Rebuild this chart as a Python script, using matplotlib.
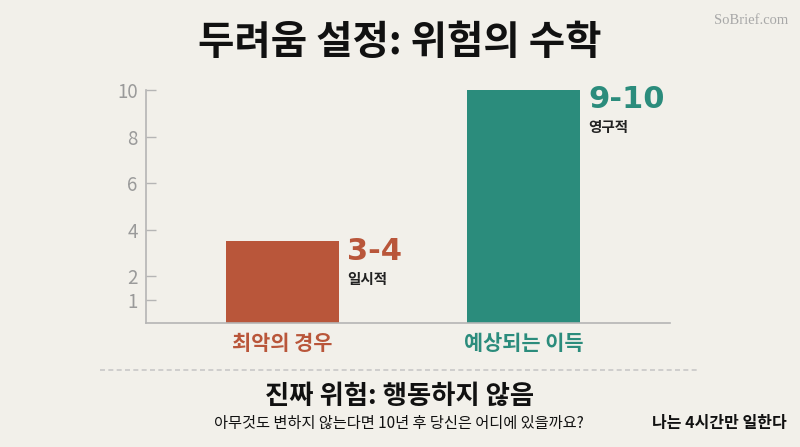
from matplotlib import pyplot as plt
import numpy as np

plt.rcParams['font.family'] = ['Noto Sans CJK KR', 'DejaVu Sans']

# 데이터
categories = ['최악의 경우', '예상되는 이득']
values = [3.5, 10]
range_labels = ['3-4', '9-10']
descriptions = ['일시적', '영구적']
bar_colors = ['#B9563A', '#2B8C7C']
yticks = [1, 2, 4, 6, 8, 10]

bg = '#F2F0EA'

fig = plt.figure(figsize=(8, 4.47), dpi=100, facecolor=bg)
ax = fig.add_axes([0.1825, 0.2774, 0.655, 0.5213])
ax.set_facecolor(bg)

x = np.arange(len(categories))
w = 0.469
ax.bar(x, values, width=w, color=bar_colors, zorder=2)

ax.set_xlim(-0.566, 1.608)
ax.set_ylim(0, 10)
ax.set_yticks(yticks)
ax.set_yticklabels([str(t) for t in yticks])
ax.tick_params(axis='y', direction='in', length=7, width=1, color='#b5b5b5',
               labelcolor='#9a9a9a', labelsize=13.5, pad=6)
ax.set_xticks([])
for s in ['top', 'right']:
    ax.spines[s].set_visible(False)
for s in ['left', 'bottom']:
    ax.spines[s].set_color('#b5b5b5')
    ax.spines[s].set_linewidth(1.2)

# 막대 옆 라벨
for i in range(len(values)):
    ax.annotate(range_labels[i], xy=(x[i] + w / 2, values[i]),
                xytext=(6, -7), textcoords='offset points',
                ha='left', va='center', fontsize=22, fontweight='bold',
                color=bar_colors[i], family=['DejaVu Sans'])
    ax.annotate(descriptions[i], xy=(x[i] + w / 2, values[i]),
                xytext=(6, -27), textcoords='offset points',
                ha='left', va='center', fontsize=10.5, fontweight='bold',
                color='#222222')
    ax.annotate(categories[i], xy=(x[i], 0), xytext=(0, -15),
                textcoords='offset points', ha='center', va='center',
                fontsize=15, fontweight='bold', color=bar_colors[i])

# 제목
fig.text(0.5, 1 - 43 / 447, '두려움 설정: 위험의 수학', ha='center', va='center',
         fontsize=28.5, fontweight='heavy', color='#111111')
fig.text(0.985, 1 - 20 / 447, 'SoBrief.com', ha='right', va='center',
         fontsize=10.5, color='#a8a8a8', family=['Liberation Serif'])

# 점선
fig.add_artist(plt.Line2D([100 / 800, 700 / 800], [1 - 370 / 447, 1 - 370 / 447],
                          transform=fig.transFigure, color='#c8c8c8',
                          linestyle=(0, (3, 2)), linewidth=1.2))

fig.text(0.5, 1 - 397 / 447, '진짜 위험: 행동하지 않음', ha='center', va='center',
         fontsize=19, fontweight='heavy', color='#111111')
fig.text(399 / 800, 1 - 423 / 447, '아무것도 변하지 않는다면 10년 후 당신은 어디에 있을까요?',
         ha='center', va='center', fontsize=11, fontweight='medium', color='#111111')
fig.text(787 / 800, 1 - 423 / 447, '나는 4시간만 일한다', ha='right', va='center',
         fontsize=11.5, fontweight='bold', color='#111111')

fig.savefig('out.png', dpi=100, facecolor=bg)
